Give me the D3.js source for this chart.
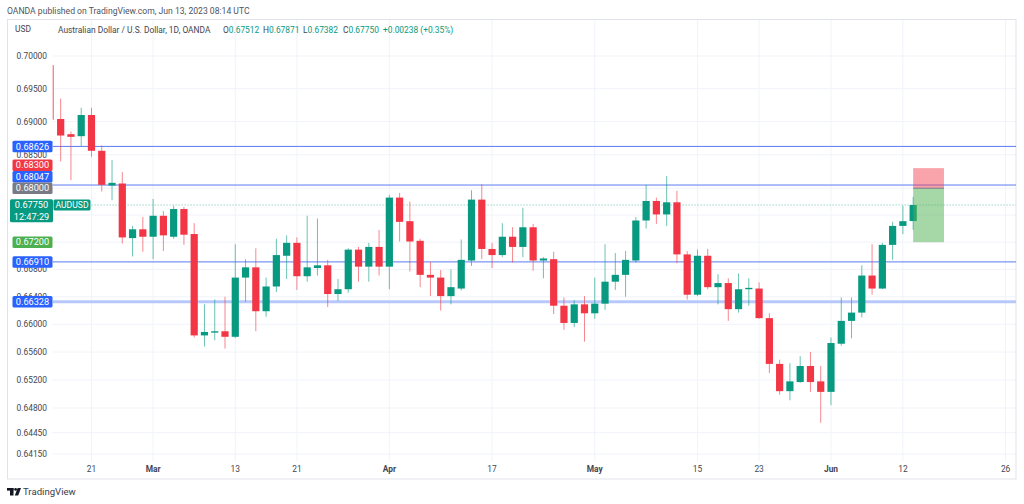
<!DOCTYPE html>
<html><head><meta charset="utf-8">
<script src="https://cdn.jsdelivr.net/npm/d3@7/dist/d3.min.js"></script>
<style>html,body{margin:0;padding:0;background:#fff;} svg{display:block;font-family:Roboto,"Noto Sans",sans-serif;}</style>
</head><body><svg id="c" width="1024" height="504"></svg>
<script>
// ---------------- DATA ----------------
const dates = [
 "2023-02-15","2023-02-16","2023-02-17","2023-02-20","2023-02-21","2023-02-22","2023-02-23","2023-02-24","2023-02-27","2023-02-28",
 "2023-03-01","2023-03-02","2023-03-03","2023-03-06","2023-03-07","2023-03-08","2023-03-09","2023-03-10","2023-03-13","2023-03-14",
 "2023-03-15","2023-03-16","2023-03-17","2023-03-20","2023-03-21","2023-03-22","2023-03-23","2023-03-24","2023-03-27","2023-03-28",
 "2023-03-29","2023-03-30","2023-03-31","2023-04-03","2023-04-04","2023-04-05","2023-04-06","2023-04-07","2023-04-10","2023-04-11",
 "2023-04-12","2023-04-13","2023-04-14","2023-04-17","2023-04-18","2023-04-19","2023-04-20","2023-04-21","2023-04-24","2023-04-25",
 "2023-04-26","2023-04-27","2023-04-28","2023-05-01","2023-05-02","2023-05-03","2023-05-04","2023-05-05","2023-05-08","2023-05-09",
 "2023-05-10","2023-05-11","2023-05-12","2023-05-15","2023-05-16","2023-05-17","2023-05-18","2023-05-19","2023-05-22","2023-05-23",
 "2023-05-24","2023-05-25","2023-05-26","2023-05-29","2023-05-30","2023-05-31","2023-06-01","2023-06-02","2023-06-05","2023-06-06",
 "2023-06-07","2023-06-08","2023-06-09","2023-06-12","2023-06-13"];
const futureDates = ["2023-06-14","2023-06-15","2023-06-16","2023-06-19","2023-06-20","2023-06-21","2023-06-22","2023-06-23","2023-06-26"];

const open = [
 0.6986,0.6904,0.6881,0.6878,0.6910,0.6856,0.6804,0.6807,0.6726,0.6739,
 0.6728,0.6759,0.6728,0.6769,0.6732,0.6584,0.6588,0.6590,0.6582,0.6668,
 0.6683,0.6619,0.6655,0.6700,0.6719,0.6670,0.6682,0.6686,0.6644,0.6651,
 0.6709,0.6684,0.6713,0.6684,0.6786,0.6751,0.6722,0.6672,0.6668,0.6641,
 0.6652,0.6693,0.6783,0.6710,0.6701,0.6728,0.6713,0.6742,0.6693,0.6695,
 0.6627,0.6602,0.6629,0.6616,0.6630,0.6662,0.6672,0.6693,0.6752,0.6781,
 0.6761,0.6779,0.6702,0.6643,0.6700,0.6654,0.6660,0.6622,0.6651,0.6652,
 0.6609,0.6543,0.6504,0.6517,0.6540,0.6518,0.6503,0.6572,0.6605,0.6617,
 0.6671,0.6652,0.6716,0.6744,0.67512];
const high = [
 0.6990,0.6935,0.6885,0.6921,0.6921,0.6864,0.6842,0.6824,0.6744,0.6757,
 0.6784,0.6766,0.6774,0.6772,0.6748,0.6629,0.6636,0.6640,0.6717,0.6695,
 0.6711,0.6668,0.6725,0.6730,0.6727,0.6759,0.6755,0.6694,0.6666,0.6711,
 0.6713,0.6719,0.6738,0.6790,0.6793,0.6780,0.6725,0.6691,0.6679,0.6680,
 0.6724,0.6797,0.6806,0.6719,0.6748,0.6742,0.6771,0.6747,0.6698,0.6706,
 0.6639,0.6635,0.6641,0.6668,0.6717,0.6704,0.6707,0.6757,0.6805,0.6786,
 0.6818,0.6796,0.6707,0.6709,0.6710,0.6673,0.6667,0.6674,0.6667,0.6661,
 0.6616,0.6549,0.6544,0.6554,0.6560,0.6540,0.6581,0.6639,0.6639,0.6686,
 0.6717,0.6719,0.6750,0.6774,0.67871];
const low = [
 0.6900,0.6840,0.6812,0.6863,0.6847,0.6795,0.6782,0.6718,0.6699,0.6706,
 0.6695,0.6707,0.6725,0.6716,0.6581,0.6568,0.6577,0.6565,0.6580,0.6633,
 0.6590,0.6611,0.6647,0.6666,0.6650,0.6662,0.6671,0.6625,0.6634,0.6646,
 0.6662,0.6662,0.6671,0.6651,0.6721,0.6677,0.6654,0.6641,0.6620,0.6629,
 0.6649,0.6685,0.6695,0.6682,0.6698,0.6690,0.6698,0.6678,0.6667,0.6615,
 0.6592,0.6596,0.6575,0.6608,0.6621,0.6650,0.6640,0.6690,0.6740,0.6747,
 0.6744,0.6689,0.6636,0.6641,0.6651,0.6629,0.6605,0.6617,0.6627,0.6608,
 0.6530,0.6499,0.6491,0.6516,0.6503,0.6459,0.6484,0.6569,0.6580,0.6610,
 0.6643,0.6651,0.6694,0.6732,0.67382];
const close = [
 0.6903,0.6879,0.6877,0.6910,0.6856,0.6805,0.6808,0.6727,0.6739,0.6728,
 0.6759,0.6730,0.6769,0.6731,0.6584,0.6589,0.6590,0.6582,0.6668,0.6683,
 0.6619,0.6655,0.6701,0.6719,0.6670,0.6683,0.6686,0.6644,0.6651,0.6709,
 0.6684,0.6713,0.6684,0.6786,0.6750,0.6721,0.6672,0.6668,0.6641,0.6654,
 0.6694,0.6783,0.6710,0.6701,0.6728,0.6713,0.6742,0.6693,0.6696,0.6627,
 0.6602,0.6629,0.6616,0.6630,0.6662,0.6672,0.6694,0.6752,0.6781,0.6761,
 0.6779,0.6702,0.6643,0.6700,0.6654,0.6660,0.6622,0.6651,0.6653,0.6609,
 0.6543,0.6504,0.6518,0.6540,0.6517,0.6503,0.6573,0.6605,0.6617,0.6671,
 0.6652,0.6716,0.6744,0.6751,0.67750];

const yTicks = [0.70,0.695,0.69,0.685,0.68,0.676,0.672,0.668,0.664,0.66,0.656,0.652,0.648,0.6445,0.6415];
const xTickDates  = ["2023-02-21","2023-03-01","2023-03-13","2023-03-21","2023-04-03","2023-04-17","2023-05-01","2023-05-15","2023-05-23","2023-06-01","2023-06-12","2023-06-26"];
const xTickLabels = ["21","Mar","13","21","Apr","17","May","15","23","Jun","12","26"];

const levelLines = [0.68626, 0.68047, 0.66910, 0.66328];
const posEntry = 0.68000, posStop = 0.68300, posTarget = 0.67200;
const posStartDate = "2023-06-13", posEndDate = "2023-06-16";
const lastPrice = 0.67750, countdown = "12:47:29", symbol = "AUDUSD";
const headerTitle = "OANDA published on TradingView.com, Jun 13, 2023 08:14 UTC";
const legendName = "Australian Dollar / U.S. Dollar, 1D, OANDA";
const legendLetters = ["O","H","L","C"];
const legendValues = ["0.67512","0.67871","0.67382","0.67750"];
const legendChange = "+0.00238 (+0.35%)";

// ---------------- DRAW ----------------
const svg = d3.select("#c");
const fmt = d3.format(".5f");
const GREEN = "#089981", RED = "#f23645";
const plotL = 52.6, plotR = 1016, plotT = 19.5, plotB = 461;

const x = d3.scalePoint().domain(dates.concat(futureDates)).range([50.4, 1005.6]);
const y = d3.scaleLog().domain([0.6415, 0.70]).range([454, 56]);

svg.append("defs").append("clipPath").attr("id","clip")
  .append("rect").attr("x",plotL).attr("y",plotT).attr("width",plotR-plotL).attr("height",plotB-plotT);

// grid
const grid = svg.append("g");
grid.selectAll("line.h").data(yTicks).join("line")
  .attr("x1",plotL).attr("x2",plotR).attr("y1",d=>y(d)).attr("y2",d=>y(d))
  .attr("stroke","#f0f3fa").attr("stroke-width",1);
grid.selectAll("line.v").data(xTickDates).join("line")
  .attr("x1",d=>x(d)).attr("x2",d=>x(d)).attr("y1",plotT).attr("y2",plotB)
  .attr("stroke","#f0f3fa").attr("stroke-width",1);

// frame
svg.append("rect").attr("x",7.5).attr("y",19.5).attr("width",1008.5).attr("height",459.5)
  .attr("fill","none").attr("stroke","#e0e3eb");

const plot = svg.append("g").attr("clip-path","url(#clip)");

// level lines
plot.selectAll("line.lvl").data(levelLines).join("line")
  .attr("x1",plotL).attr("x2",plotR).attr("y1",d=>y(d)).attr("y2",d=>y(d))
  .attr("stroke",(d,i)=> i===3 ? "#b8c8fb" : "#5b7cf2")
  .attr("stroke-width",(d,i)=> i===3 ? 3 : 1);

// last price dotted line
plot.append("line").attr("x1",plotL).attr("x2",plotR).attr("y1",y(lastPrice)).attr("y2",y(lastPrice))
  .attr("stroke",GREEN).attr("stroke-opacity",0.6).attr("stroke-dasharray","1,2");

// candles
const idx = d3.range(dates.length);
const cg = plot.append("g");
cg.selectAll("line.w").data(idx).join("line")
  .attr("x1",i=>x(dates[i])).attr("x2",i=>x(dates[i]))
  .attr("y1",i=>y(high[i])).attr("y2",i=>y(low[i]))
  .attr("stroke",i=> close[i]>=open[i]?GREEN:RED).attr("stroke-opacity",0.6).attr("stroke-width",1);
cg.selectAll("rect.b").data(idx).join("rect")
  .attr("x",i=>x(dates[i])-3.6).attr("width",7.2)
  .attr("y",i=>y(Math.max(open[i],close[i])))
  .attr("height",i=>Math.max(1.2, Math.abs(y(open[i])-y(close[i]))))
  .attr("fill",i=> close[i]>=open[i]?GREEN:RED)
  .attr("fill-opacity",(d,i)=> i===0 ? 0.6 : 1);

// position tool
const px0 = x(posStartDate), px1 = x(posEndDate);
plot.append("rect").attr("x",px0).attr("width",px1-px0).attr("y",y(posStop)).attr("height",y(posEntry)-y(posStop))
  .attr("fill",RED).attr("fill-opacity",0.45);
plot.append("rect").attr("x",px0).attr("width",px1-px0).attr("y",y(posEntry)).attr("height",y(posTarget)-y(posEntry))
  .attr("fill","#4caf50").attr("fill-opacity",0.5);
plot.append("line").attr("x1",px0).attr("x2",px1).attr("y1",y(posEntry)).attr("y2",y(posEntry))
  .attr("stroke","#787b86").attr("stroke-width",1);

// price badges with collision handling
const badges = [
  {p:levelLines[0], color:"#2962ff", lines:[fmt(levelLines[0])]},
  {p:posStop, color:RED, lines:[fmt(posStop)]},
  {p:levelLines[1], color:"#2962ff", lines:[fmt(levelLines[1])]},
  {p:posEntry, color:"#787b86", lines:[fmt(posEntry)]},
  {p:lastPrice, color:GREEN, lines:[fmt(lastPrice), countdown], big:true},
  {p:posTarget, color:"#4caf50", lines:[fmt(posTarget)]},
  {p:levelLines[2], color:"#2962ff", lines:[fmt(levelLines[2])]},
  {p:levelLines[3], color:"#2962ff", lines:[fmt(levelLines[3])]}
];
const bh = 11.5;
badges.forEach(b=>{ b.cy = y(b.p); b.h = bh*b.lines.length; });
const sorted = badges.slice().sort((a,b)=>b.cy-a.cy);
let prevTop = Infinity;
sorted.forEach(b=>{
  let top = b.cy - bh/2, bottom = top + b.h;
  if (bottom > prevTop) { const s = bottom - prevTop; top -= s; b.cy -= s; }
  prevTop = top; b.top = top;
});

// y tick labels (those fully covered by a price badge are not drawn, as in the reference)
const hidden = t => badges.some(b => y(t) > b.top + 3 && y(t) < b.top + b.h - 3);
svg.append("g").selectAll("text").data(yTicks.filter(t=>!hidden(t))).join("text")
  .attr("x",47).attr("y",d=>y(d)+3).attr("text-anchor","end")
  .attr("font-size",8.4).attr("fill","#434651").text(d=>fmt(d));

// x tick labels
svg.append("g").selectAll("text").data(xTickDates).join("text")
  .attr("x",d=>x(d)).attr("y",472).attr("text-anchor","middle")
  .attr("font-size",8.4).attr("fill","#434651")
  .attr("font-weight",(d,i)=> isNaN(+xTickLabels[i]) ? "bold" : "normal")
  .text((d,i)=>xTickLabels[i]);

const bg = svg.append("g");
badges.forEach(b=>{
  const bx = b.big ? 10 : 12.5, bw = b.big ? 43 : 40;
  bg.append("rect").attr("x",bx).attr("y",b.top).attr("width",bw).attr("height",b.h)
    .attr("rx",1.5).attr("fill",b.color);
  b.lines.forEach((t,k)=>{
    bg.append("text").attr("x",bx+bw/2).attr("y",b.top+bh/2+3.3+k*bh).attr("text-anchor","middle")
      .attr("font-size",9.2).attr("fill","#fff").text(t);
  });
});
// symbol badge
const ly = y(lastPrice);
bg.append("rect").attr("x",53.5).attr("y",ly-5.5).attr("width",37).attr("height",11).attr("rx",1.5).attr("fill",GREEN);
bg.append("text").attr("x",72).attr("y",ly+3.1).attr("text-anchor","middle").attr("font-size",8.6).attr("fill","#fff").text(symbol);

// header
svg.append("text").attr("x",7).attr("y",14).attr("font-size",8.6).attr("fill","#50535e").text(headerTitle);
svg.append("text").attr("x",15).attr("y",32).attr("font-size",8.4).attr("fill","#434651").text("USD");
svg.append("text").attr("x",58).attr("y",33).attr("font-size",8.4).attr("fill","#434651").text(legendName);
const legX = [223, 263, 303, 343];
legendLetters.forEach((L,i)=>{
  const t = svg.append("text").attr("x",legX[i]).attr("y",33).attr("font-size",8.4);
  t.append("tspan").attr("fill","#434651").text(L);
  t.append("tspan").attr("fill",GREEN).text(legendValues[i]);
});
svg.append("text").attr("x",383).attr("y",33).attr("font-size",8.4).attr("fill",GREEN).text(legendChange);

// footer logo
const logo = svg.append("g").attr("fill","#131722");
logo.append("rect").attr("x",7).attr("y",488).attr("width",6.5).attr("height",2.6);
logo.append("rect").attr("x",10).attr("y",488).attr("width",3.5).attr("height",7.5);
logo.append("circle").attr("cx",15.6).attr("cy",489.4).attr("r",1.4);
logo.append("path").attr("d","M17.6,488 L21,488 L18.2,495.5 L14.8,495.5 Z");
svg.append("text").attr("x",23).attr("y",495.2).attr("font-size",9.6).attr("fill","#3a3d47").text("TradingView");
</script></body></html>
